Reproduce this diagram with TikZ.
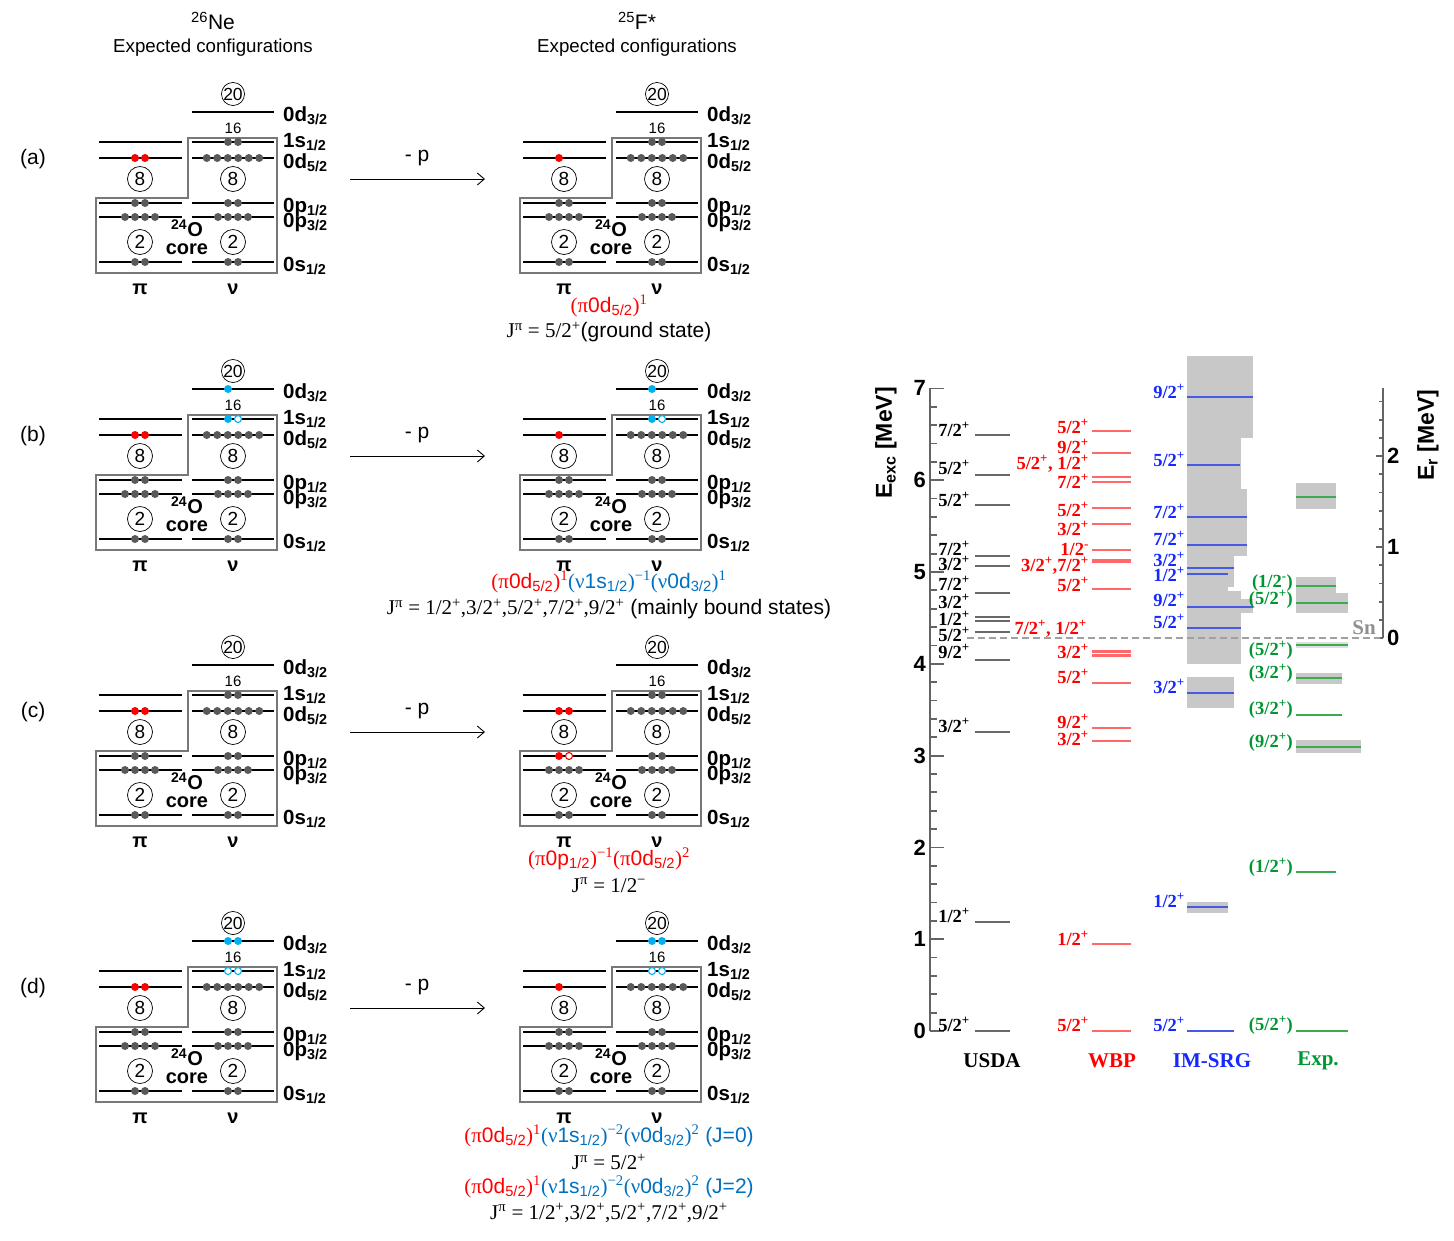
\documentclass[tikz,border=0pt]{standalone}
\usepackage{fontspec}
\setmainfont{Liberation Sans}
\newfontfamily\tms{Liberation Serif}
\usetikzlibrary{arrows.meta}
\definecolor{dotgray}{RGB}{90,90,90}
\definecolor{boxgray}{RGB}{120,120,120}
\definecolor{nblue}{RGB}{0,176,240}
\definecolor{cblue}{RGB}{0,112,192}
\definecolor{usdagray}{RGB}{105,105,105}
\definecolor{axgray}{RGB}{100,100,100}
\definecolor{wbpline}{RGB}{255,105,105}
\definecolor{imline}{RGB}{70,90,230}
\definecolor{imtext}{RGB}{20,40,255}
\definecolor{expline}{RGB}{60,170,80}
\definecolor{exptext}{RGB}{0,150,50}
\definecolor{band}{RGB}{200,200,200}
\definecolor{dashgray}{RGB}{160,160,160}
\newcommand\tx[1]{{\tms #1}}
\newcommand\jj[2]{#1/2\textsuperscript{#2}}
\newcommand\dotG[2]{\fill[dotgray] (#1,#2) circle (4pt);}
\newcommand\dotR[2]{\fill[red] (#1,#2) circle (4pt);}
\newcommand\dotB[2]{\fill[nblue] (#1,#2) circle (4pt);}
\newcommand\openR[2]{\draw[red,line width=1.1pt,fill=white] (#1,#2) circle (3.5pt);}
\newcommand\openB[2]{\draw[nblue,line width=1.1pt,fill=white] (#1,#2) circle (3.5pt);}
\newcommand\drawscheme[3]{%
\begin{scope}[shift={(#1,#2)}, name prefix=#3]
\draw[coreline] (96,273) -- (96,198) -- (188,198) -- (188,138) -- (277,138) -- (277,273) -- cycle;
\foreach \yy in {142,158,203,217,262} {\draw[lvline] (99,\yy) -- (182,\yy);}
\foreach \yy in {112,142,158,203,217,262} {\draw[lvline] (192,\yy) -- (274,\yy);}
\node[ringsm] (c20) at (233,94) {20};
\node[ring] (c8p) at (140,179) {8};
\node[ring] (c8n) at (233,179) {8};
\node[ring] (c2p) at (140,242) {2};
\node[ring] (c2n) at (233,242) {2};
\node[font=\fontsize{15}{15}\selectfont, inner sep=0pt] (n16) at (233,128) {16};
\node[bigbold] (o24) at (187,228) {\textsuperscript{24}O};
\node[bigbold] (core) at (187,249) {core};
\node[bigbold] (pi) at (140,289) {π};
\node[bigbold] (nu) at (233,289) {ν};
\node[statelbl] (s1) at (283,121) {0d\textsubscript{3/2}};
\node[statelbl] (s2) at (283,147) {1s\textsubscript{1/2}};
\node[statelbl] (s3) at (283,168) {0d\textsubscript{5/2}};
\node[statelbl] (s4) at (283,212) {0p\textsubscript{1/2}};
\node[statelbl] (s5) at (283,227) {0p\textsubscript{3/2}};
\node[statelbl] (s6) at (283,271) {0s\textsubscript{1/2}};
\foreach \xx in {125,135,145,155} {\dotG{\xx}{217}}
\foreach \xx in {135,145} {\dotG{\xx}{262}}
\foreach \xx in {206.75,217.25,227.75,238.25,248.75,259.25} {\dotG{\xx}{158}}
\foreach \xx in {228,238} {\dotG{\xx}{203}\dotG{\xx}{262}}
\foreach \xx in {218,228,238,248} {\dotG{\xx}{217}}
\end{scope}}
\begin{document}
\begin{tikzpicture}[x=1pt,y=-1pt,
  lvline/.style={line width=1.8pt},
  coreline/.style={line width=1.3pt, draw=boxgray},
  ring/.style={circle, draw, line width=0.7pt, inner sep=0pt, minimum size=25pt, font=\fontsize{19}{19}\selectfont},
  ringsm/.style={ring, minimum size=22pt, font=\fontsize{17.5}{18}\selectfont},
  statelbl/.style={anchor=base west, inner sep=0pt, font=\fontsize{20.5}{20}\selectfont\bfseries},
  bigbold/.style={font=\fontsize{20}{20}\selectfont\bfseries, inner sep=0pt},
  plain/.style={font=\fontsize{18.7}{19}\selectfont, inner sep=0pt},
  cfg/.style={font=\fontsize{21}{21}\selectfont, inner sep=0pt},
  chl/.style={font=\fontsize{18.5}{18}\selectfont\tms\bfseries, anchor=base east, inner sep=0pt},
  ulab/.style={chl, text=black},
  wlab/.style={chl, text=red},
  ilab/.style={chl, text=imtext},
  elab/.style={chl, text=exptext},
  usdaline/.style={draw=usdagray, line width=2.4pt},
  wbpline/.style={draw=wbpline, line width=2.4pt},
  imline/.style={draw=imline, line width=2.4pt},
  expline/.style={draw=expline, line width=2.4pt},
  axl/.style={draw=axgray, line width=1.8pt},
  axnum/.style={font=\fontsize{22}{22}\selectfont\bfseries, inner sep=0pt},
  colhead/.style={font=\fontsize{21}{21}\selectfont\tms\bfseries, inner sep=0pt},
  arr/.style={-{Straight Barb[length=7pt,width=12pt]}, line width=0.9pt}
]
\useasboundingbox (0,0) rectangle (1454,1240);
% titles
\node[font=\fontsize{21}{21}\selectfont, inner sep=0pt] (tNe) at (213,21) {\textsuperscript{26}Ne};
\node[plain] (tNe2) at (213,48) {Expected configurations};
\node[font=\fontsize{21}{21}\selectfont, inner sep=0pt] (tF) at (637,21) {\textsuperscript{25}F*};
\node[plain] (tF2) at (637,48) {Expected configurations};
% panel letters, arrows
\foreach \dy/\lt in {0/a,277/b,553/c,829/d} {
  \node[font=\fontsize{21}{21}\selectfont, inner sep=0pt] (lab\lt) at (33,{159+\dy}) {(\lt)};
  \node[font=\fontsize{21}{21}\selectfont, inner sep=0pt] (mp\lt) at (417,{158+\dy}) {- p};
  \coordinate (ar\lt1) at (350,{179+\dy});
  \coordinate (ar\lt2) at (485,{179+\dy});
  \draw[arr] (ar\lt1) -- (ar\lt2);
}
% schemes
\drawscheme{0}{0}{aL-}
\drawscheme{424}{0}{aR-}
\drawscheme{0}{277}{bL-}
\drawscheme{424}{277}{bR-}
\drawscheme{0}{553}{cL-}
\drawscheme{424}{553}{cR-}
\drawscheme{0}{829}{dL-}
\drawscheme{424}{829}{dR-}
% variable dots
\begin{scope}[shift={(0,0)}]
\dotR{135}{158}\dotR{145}{158}\dotG{135}{203}\dotG{145}{203}\dotG{228}{142}\dotG{238}{142}
\end{scope}
\begin{scope}[shift={(424,0)}]
\dotR{135}{158}\dotG{135}{203}\dotG{145}{203}\dotG{228}{142}\dotG{238}{142}
\end{scope}
\begin{scope}[shift={(0,277)}]
\dotR{135}{158}\dotR{145}{158}\dotG{135}{203}\dotG{145}{203}\dotB{228}{142}\openB{238}{142}\dotB{228}{112}
\end{scope}
\begin{scope}[shift={(424,277)}]
\dotR{135}{158}\dotG{135}{203}\dotG{145}{203}\dotB{228}{142}\openB{238}{142}\dotB{228}{112}
\end{scope}
\begin{scope}[shift={(0,553)}]
\dotR{135}{158}\dotR{145}{158}\dotG{135}{203}\dotG{145}{203}\dotG{228}{142}\dotG{238}{142}
\end{scope}
\begin{scope}[shift={(424,553)}]
\dotR{135}{158}\dotR{145}{158}\dotR{135}{203}\openR{145}{203}\dotG{228}{142}\dotG{238}{142}
\end{scope}
\begin{scope}[shift={(0,829)}]
\dotR{135}{158}\dotR{145}{158}\dotG{135}{203}\dotG{145}{203}\openB{228}{142}\openB{238}{142}\dotB{228}{112}\dotB{238}{112}
\end{scope}
\begin{scope}[shift={(424,829)}]
\dotR{135}{158}\dotG{135}{203}\dotG{145}{203}\openB{228}{142}\openB{238}{142}\dotB{228}{112}\dotB{238}{112}
\end{scope}
% configuration texts
\node[cfg] (ca1) at (609,306) {\color{red}\tx{(π}0d\textsubscript{5/2}\tx{)\textsuperscript{1}}};
\node[cfg] (ca2) at (609,332) {\tx{J\textsuperscript{π} = 5/2\textsuperscript{+}}(ground state)};
\node[cfg] (cb1) at (609,582) {{\color{red}\tx{(π}0d\textsubscript{5/2}\tx{)\textsuperscript{1}}}{\color{cblue}\tx{(ν}1s\textsubscript{1/2}\tx{)\textsuperscript{−1}(ν}0d\textsubscript{3/2}\tx{)\textsuperscript{1}}}};
\node[cfg] (cb2) at (609,609) {\tx{J\textsuperscript{π} = 1/2\textsuperscript{+},3/2\textsuperscript{+},5/2\textsuperscript{+},7/2\textsuperscript{+},9/2\textsuperscript{+}} (mainly bound states)};
\node[cfg] (cc1) at (609,859) {\color{red}\tx{(π}0p\textsubscript{1/2}\tx{)\textsuperscript{−1}(π}0d\textsubscript{5/2}\tx{)\textsuperscript{2}}};
\node[cfg] (cc2) at (609,885) {\tx{J\textsuperscript{π} = 1/2\textsuperscript{−}}};
\node[cfg] (cd1) at (609,1136) {{\color{red}\tx{(π}0d\textsubscript{5/2}\tx{)\textsuperscript{1}}}{\color{cblue}\tx{(ν}1s\textsubscript{1/2}\tx{)\textsuperscript{−2}(ν}0d\textsubscript{3/2}\tx{)\textsuperscript{2}} (J=0)}};
\node[cfg] (cd2) at (609,1162) {\tx{J\textsuperscript{π} = 5/2\textsuperscript{+}}};
\node[cfg] (cd3) at (609,1187) {{\color{red}\tx{(π}0d\textsubscript{5/2}\tx{)\textsuperscript{1}}}{\color{cblue}\tx{(ν}1s\textsubscript{1/2}\tx{)\textsuperscript{−2}(ν}0d\textsubscript{3/2}\tx{)\textsuperscript{2}} (J=2)}};
\node[cfg] (cd4) at (609,1213) {\tx{J\textsuperscript{π} = 1/2\textsuperscript{+},3/2\textsuperscript{+},5/2\textsuperscript{+},7/2\textsuperscript{+},9/2\textsuperscript{+}}};
% ===== level chart =====
% bands
\fill[band] (1187,356) rectangle (1253,438);
\fill[band] (1187,438) rectangle (1241,489);
\fill[band] (1187,489) rectangle (1247,556);
\fill[band] (1187,556) rectangle (1234,587);
\fill[band] (1187,587) rectangle (1228,591);
\fill[band] (1187,591) rectangle (1241,599);
\fill[band] (1187,599) rectangle (1253,613);
\fill[band] (1187,613) rectangle (1241,664);
\fill[band] (1187,677) rectangle (1234,708);
\fill[band] (1187,902) rectangle (1228,913);
\fill[band] (1296,483) rectangle (1336,509);
\fill[band] (1296,577) rectangle (1336,613);
\fill[band] (1336,593) rectangle (1348,613);
\fill[band!60] (1296,642) rectangle (1348,648);
\fill[band] (1296,673) rectangle (1342,684);
\fill[band] (1296,740) rectangle (1361,753);
% left axis
\draw[axl] (930,388) -- (930,1031);
\foreach \i in {1,...,34} {\draw[axl] (930,{1031-91.8*\i/5}) -- (937,{1031-91.8*\i/5});}
\foreach \e in {0,...,7} {
  \draw[axl] (930,{1031-91.8*\e}) -- (944,{1031-91.8*\e});
  \node[axnum, anchor=east] (ax\e) at (926,{1031-91.8*\e}) {\e};
}
\node[font=\fontsize{23}{23}\selectfont\bfseries, rotate=90, inner sep=0pt] (ylab) at (886,443) {E\textsubscript{exc} [MeV]};
% right axis
\draw[axl] (1383,388) -- (1383,638);
\foreach \i in {1,...,13} {\draw[axl] (1383,{638-91*\i/5}) -- (1379,{638-91*\i/5});}
\foreach \e in {0,1,2} {
  \draw[axl] (1383,{638-91*\e}) -- (1376,{638-91*\e});
  \node[axnum, anchor=west] (rx\e) at (1387,{638-91*\e}) {\e};
}
\node[font=\fontsize{23}{23}\selectfont\bfseries, rotate=90, inner sep=0pt] (rlab) at (1428,435) {E\textsubscript{r} [MeV]};
% Sn threshold
\draw[draw=dashgray, line width=2pt, dash pattern=on 7pt off 4pt] (967,638) -- (1380,638);
\node[font=\fontsize{21}{21}\selectfont\tms\bfseries, text=dashgray!90!black, inner sep=0pt] (sn) at (1364,628) {Sn};
% USDA
\foreach \ly/\tb/\nn [count=\k] in {435/436/7, 475/474/5, 505/506/5, 556/555/7, 566/570/3, 593/590/7, 617/608/3, 621/625/1, 632/641/5, 660/658/9, 732/732/3, 922/922/1, 1031/1031/5}
 {\draw[usdaline] (975,\ly) -- (1010,\ly); \node[ulab] (u\k) at (970,\tb) {\jj{\nn}{+}};}
% WBP
\foreach \ly in {431,453,477,482,508,524,550,589,651.5,655.5,683,728,741,944,1031} {\draw[wbpline] (1092,\ly) -- (1131,\ly);}
\draw[wbpline, line width=3.6pt] (1092,561) -- (1131,561);
\foreach \tb/\nn/\sg [count=\k] in {433/5/+, 453/9/+, 488/7/+, 516/5/+, 535/3/+, 555/1/-, 591/5/+, 658/3/+, 683/5/+, 728/9/+, 745/3/+, 945/1/+, 1031/5/+}
 {\node[wlab] (w\k) at (1089,\tb) {\jj{\nn}{\sg}};}
\node[wlab] (wx1) at (1089,469) {\jj{5}{+}, \jj{1}{+}};
\node[wlab] (wx2) at (1089,571) {\jj{3}{+},\jj{7}{+}};
\node[wlab] (wx3) at (1087,634) {\jj{7}{+}, \jj{1}{+}};
% IM-SRG
\foreach \ly/\xe in {397/1253, 465/1240, 517/1247, 545/1247, 568/1234, 574/1228, 607/1253, 628/1241, 693/1234, 907/1228, 1031/1234} {\draw[imline] (1187,\ly) -- (\xe,\ly);}
\foreach \tb/\nn [count=\k] in {398/9, 466/5, 518/7, 545/7, 566/3, 581/1, 606/9, 628/5, 693/3, 907/1, 1031/5}
 {\node[ilab] (i\k) at (1185,\tb) {\jj{\nn}{+}};}
% Exp
\foreach \ly/\xe in {497/1336, 586/1336, 603/1348, 645/1348, 678/1342, 715/1342, 747/1361, 872/1336, 1031/1348} {\draw[expline] (1296,\ly) -- (\xe,\ly);}
\foreach \tb/\nn/\sg [count=\k] in {587/1/-, 604/5/+, 655/5/+, 678/3/+, 714/3/+, 747/9/+, 872/1/+, 1030/5/+}
 {\node[elab] (e\k) at (1293,\tb) {(\jj{\nn}{\sg})};}
% column heads
\node[colhead, text=black] (hU) at (992,1061) {USDA};
\node[colhead, text=red] (hW) at (1112,1061) {WBP};
\node[colhead, text=imtext] (hI) at (1212,1061) {IM-SRG};
\node[colhead, text=exptext] (hE) at (1318,1061) {Exp.};
\end{tikzpicture}
\end{document}
